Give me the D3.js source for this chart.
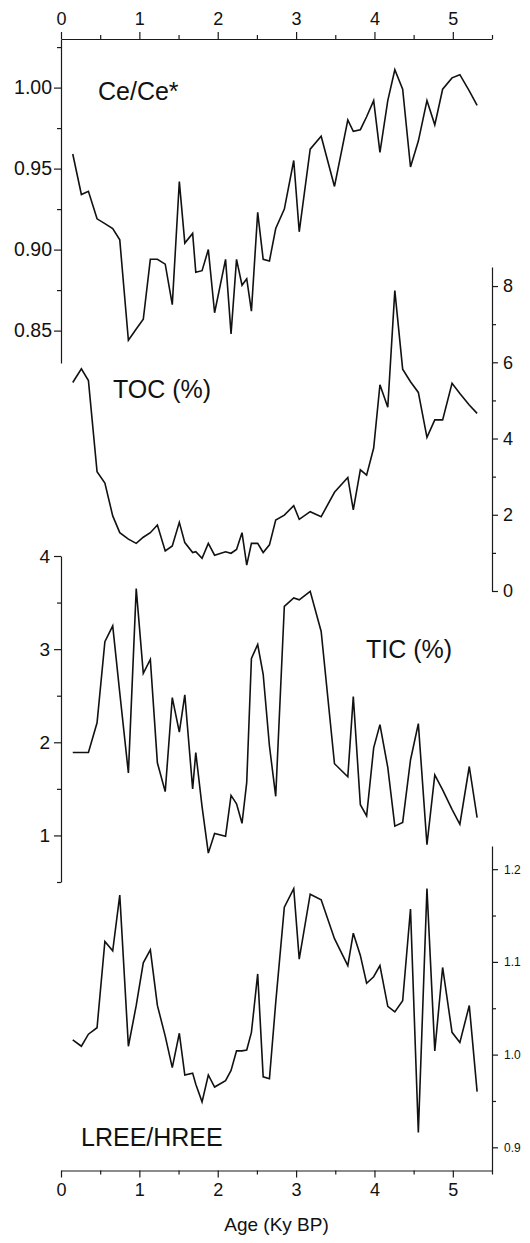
<!DOCTYPE html>
<html>
<head>
<meta charset="utf-8">
<script src="https://cdn.jsdelivr.net/npm/d3@7"></script>
<style>
  body { margin: 0; background: #fff; }
  text { font-family: "Liberation Sans", Arial, sans-serif; fill: #111; }
  .domain, .tick line { stroke: #1a1a1a; stroke-width: 1.2px; }
  .serie { fill: none; stroke: #111; stroke-width: 1.6px; }
</style>
</head>
<body>
<div id="chart"></div>
<script>
// Datos (edad en Ky BP, muestras compartidas)
const ages = [0.15, 0.26, 0.35, 0.46, 0.56, 0.66, 0.75, 0.86, 0.96, 1.05,
    1.14, 1.23, 1.33, 1.42, 1.51, 1.58, 1.68, 1.72, 1.80, 1.88,
    1.96, 2.10, 2.17, 2.24, 2.31, 2.37, 2.43, 2.51, 2.58, 2.66,
    2.74, 2.85, 2.97, 3.04, 3.18, 3.32, 3.49, 3.66, 3.73, 3.82,
    3.90, 3.99, 4.07, 4.17, 4.26, 4.36, 4.46, 4.56, 4.67, 4.77,
    4.87, 4.99, 5.09, 5.21, 5.31]

const ceCe = [0.959, 0.934, 0.936, 0.919, 0.916, 0.913, 0.906, 0.844, 0.851, 0.857,
    0.894, 0.894, 0.891, 0.866, 0.942, 0.904, 0.910, 0.886, 0.887, 0.900,
    0.861, 0.894, 0.848, 0.894, 0.878, 0.882, 0.862, 0.923, 0.894, 0.893,
    0.913, 0.925, 0.955, 0.911, 0.962, 0.970, 0.939, 0.980, 0.973, 0.974,
    0.982, 0.992, 0.960, 0.992, 1.011, 0.999, 0.951, 0.967, 0.992, 0.977,
    0.999, 1.006, 1.008, 0.998, 0.989]

const toc = [5.47, 5.83, 5.52, 3.13, 2.83, 1.97, 1.53, 1.36, 1.25, 1.41,
    1.53, 1.73, 1.05, 1.18, 1.80, 1.27, 1.01, 1.03, 0.86, 1.25,
    0.94, 1.03, 0.99, 1.09, 1.53, 0.68, 1.25, 1.25, 1.01, 1.21,
    1.86, 1.99, 2.24, 1.88, 2.08, 1.95, 2.59, 2.98, 2.13, 3.18,
    3.04, 3.75, 5.41, 4.82, 7.88, 5.82, 5.49, 5.21, 4.03, 4.49,
    4.49, 5.45, 5.18, 4.88, 4.66]

const tic = [1.89, 1.89, 1.89, 2.21, 3.08, 3.25, 2.53, 1.67, 3.65, 2.74,
    2.89, 1.78, 1.47, 2.48, 2.11, 2.51, 1.50, 1.89, 1.31, 0.81,
    1.02, 0.99, 1.43, 1.34, 1.13, 1.57, 2.90, 3.05, 2.73, 1.96,
    1.42, 3.46, 3.55, 3.53, 3.62, 3.19, 1.77, 1.63, 2.49, 1.33,
    1.21, 1.94, 2.19, 1.73, 1.10, 1.14, 1.81, 2.20, 0.90, 1.65,
    1.49, 1.28, 1.12, 1.74, 1.19]

const lreeHree = [1.016, 1.009, 1.022, 1.029, 1.122, 1.112, 1.172, 1.009, 1.053, 1.099,
    1.113, 1.053, 1.020, 0.986, 1.023, 0.978, 0.980, 0.968, 0.949, 0.978,
    0.965, 0.972, 0.983, 1.004, 1.004, 1.005, 1.024, 1.087, 0.976, 0.974,
    1.056, 1.159, 1.179, 1.103, 1.173, 1.167, 1.125, 1.096, 1.131, 1.107,
    1.077, 1.084, 1.096, 1.052, 1.046, 1.058, 1.157, 0.916, 1.179, 1.004,
    1.094, 1.024, 1.013, 1.053, 0.960]

// Ticks
const ageTicks = [0, 1, 2, 3, 4, 5]
const ageMinor = [0.5, 1.5, 2.5, 3.5, 4.5, 5.5]
const ceTicks = [0.85, 0.90, 0.95, 1.00]
const ceMinor = [0.875, 0.925, 0.975, 1.025]
const tocTicks = [0, 2, 4, 6, 8]
const tocMinor = [1, 3, 5, 7]
const ticTicks = [1, 2, 3, 4]
const ticMinor = [0.5, 1.5, 2.5, 3.5]
const lreeTicks = [0.9, 1.0, 1.1, 1.2]
const lreeMinor = [0.95, 1.05, 1.15]

const width = 530
const height = 1243

const svg = d3.select("#chart")
    .append("svg")
    .attr("width", width)
    .attr("height", height)

// Escalas
const x = d3.scaleLinear().domain([0, 5.5]).range([61, 492])
const yCe = d3.scaleLinear().domain([0.83, 1.03]).range([363, 39])
const yToc = d3.scaleLinear().domain([0, 8.5]).range([591, 267])
const yTic = d3.scaleLinear().domain([0.5, 4]).range([882, 556])
const yLree = d3.scaleLinear().domain([0.875, 1.225]).range([1170.5, 846])

// Ejes: principal + ticks menores
function drawAxis(axisFn, scale, pos, major, minor, fmt, size, pad, fontSize) {
    const g = svg.append("g").attr("transform", pos)
    g.call(axisFn(scale).tickValues(major).tickSize(size).tickSizeOuter(0)
        .tickPadding(pad).tickFormat(fmt))
    g.attr("font-size", fontSize).attr("font-family", null)
    const gm = svg.append("g").attr("transform", pos)
    gm.call(axisFn(scale).tickValues(minor).tickSize(4).tickFormat(""))
    gm.select(".domain").remove()
    return g
}

drawAxis(d3.axisTop, x, "translate(0,39)", ageTicks, ageMinor, d3.format("d"), 7, 7, 18)
drawAxis(d3.axisBottom, x, "translate(0,1170.5)", ageTicks, ageMinor, d3.format("d"), 7, 6, 18)
drawAxis(d3.axisLeft, yCe, "translate(61,0)", ceTicks, ceMinor, d3.format(".2f"), 7, 2, 19.5)
drawAxis(d3.axisRight, yToc, "translate(492,0)", tocTicks, tocMinor, d3.format("d"), 6, 5, 18)
drawAxis(d3.axisLeft, yTic, "translate(61,0)", ticTicks, ticMinor, d3.format("d"), 7, 4, 19)
drawAxis(d3.axisRight, yLree, "translate(492,0)", lreeTicks, lreeMinor, d3.format(".1f"), 6, 6, 12)

// Series
const series = [
    { values: ceCe, y: yCe },
    { values: toc, y: yToc },
    { values: tic, y: yTic },
    { values: lreeHree, y: yLree }
]

series.forEach(s => {
    const line = d3.line()
        .x((d, i) => x(ages[i]))
        .y(d => s.y(d))
    svg.append("path")
        .attr("class", "serie")
        .attr("d", line(s.values))
})

// Etiquetas
const labels = [
    { text: "Ce/Ce*", x: 98, y: 100 },
    { text: "TOC (%)", x: 113, y: 398 },
    { text: "TIC (%)", x: 366, y: 658 },
    { text: "LREE/HREE", x: 81, y: 1146 }
]
svg.selectAll(".label")
    .data(labels)
    .join("text")
    .attr("class", "label")
    .attr("x", d => d.x)
    .attr("y", d => d.y)
    .attr("font-size", 25)
    .text(d => d.text)

svg.append("text")
    .attr("x", (x.range()[0] + x.range()[1]) / 2)
    .attr("y", 1231)
    .attr("text-anchor", "middle")
    .attr("font-size", 19)
    .text("Age (Ky BP)")
</script>
</body>
</html>
